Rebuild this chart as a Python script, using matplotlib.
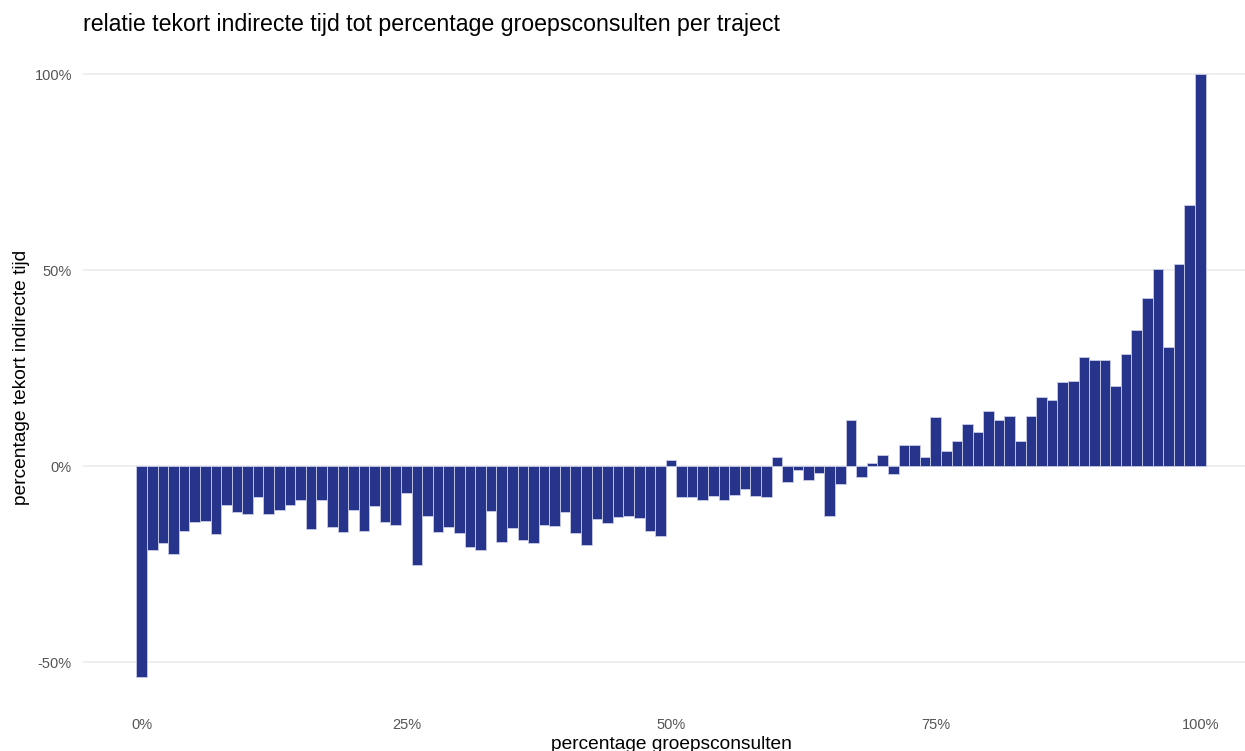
import matplotlib
matplotlib.use("Agg")
import matplotlib.pyplot as plt
from matplotlib.ticker import FuncFormatter

pct_groep = list(range(0, 101))
tekort = [
    -53.7, -21.3, -19.5, -22.3, -16.5, -14.1, -13.9, -17.2, -9.9, -11.6,
    -12.1, -7.9, -12.1, -11.2, -9.8, -8.7, -16.1, -8.5, -15.4, -16.7,
    -11.1, -16.4, -10.2, -14.3, -15.0, -6.8, -25.1, -12.7, -16.8, -15.5,
    -17.1, -20.6, -21.4, -11.5, -19.4, -15.7, -18.7, -19.5, -15.1, -15.2,
    -11.6, -17.1, -20.2, -13.4, -14.4, -13.0, -12.8, -13.1, -16.4, -17.9,
    1.5, -7.8, -7.8, -8.7, -7.6, -8.7, -7.2, -5.8, -7.6, -7.8,
    2.4, -4.1, -1.0, -3.6, -1.6, -12.8, -4.4, 11.7, -2.8, 0.9,
    2.8, -1.9, 5.4, 5.4, 2.4, 12.5, 3.8, 6.5, 10.9, 8.7,
    14.0, 11.7, 12.9, 6.4, 12.8, 17.7, 16.8, 21.4, 21.7, 27.8,
    27.1, 27.2, 20.5, 28.6, 34.7, 42.9, 50.4, 30.4, 51.6, 66.6,
    100.0,
]
x_ticks = [0, 25, 50, 75, 100]
y_ticks = [-50, 0, 50, 100]

plt.rcParams['font.family'] = ['Liberation Sans', 'DejaVu Sans']

fig = plt.figure(figsize=(12.45, 7.51), dpi=100)
W, H = 1245, 751
left, right, top, bottom = 83, 1259, 44, 707
ax = fig.add_axes([left / W, 1 - bottom / H, (right - left) / W, (bottom - top) / H])

ax.bar(pct_groep, tekort, width=1.0, color='#27348B', edgecolor='#c8cce6',
       linewidth=0.6, zorder=3)

xmin, xmax = -0.5, 100.5
span = xmax - xmin
ax.set_xlim(xmin - 0.05 * span, xmax + 0.05 * span)
ymin, ymax = min(tekort), max(tekort)
yspan = ymax - ymin
ax.set_ylim(ymin - 0.05 * yspan, ymax + 0.05 * yspan)

ax.set_xticks(x_ticks)
ax.set_yticks(y_ticks)
fmt = FuncFormatter(lambda v, p: f"{v:.0f}%")
ax.xaxis.set_major_formatter(fmt)
ax.yaxis.set_major_formatter(fmt)

ax.grid(axis='y', color='#EBEBEB', linewidth=1.2, zorder=0)
ax.grid(axis='x', visible=False)
for s in ax.spines.values():
    s.set_visible(False)
ax.tick_params(length=0, labelsize=10.5, labelcolor='#555555', pad=8)

pw, ph = right - left, bottom - top
ax.set_xlabel('percentage groepsconsulten', fontsize=13.8, color='black', va='baseline')
ax.xaxis.set_label_coords(0.5, (bottom - 749) / ph)
ax.set_ylabel('percentage tekort indirecte tijd', fontsize=13.8, color='black', va='center')
ax.yaxis.set_label_coords((22 - left) / pw, 0.5 + (375.5 - 377.5) / ph)

fig.text(83 / W, 1 - 31.5 / H, 'relatie tekort indirecte tijd tot percentage groepsconsulten per traject',
         fontsize=16.7, color='black', ha='left', va='baseline')

fig.savefig('out.png', dpi=100)
